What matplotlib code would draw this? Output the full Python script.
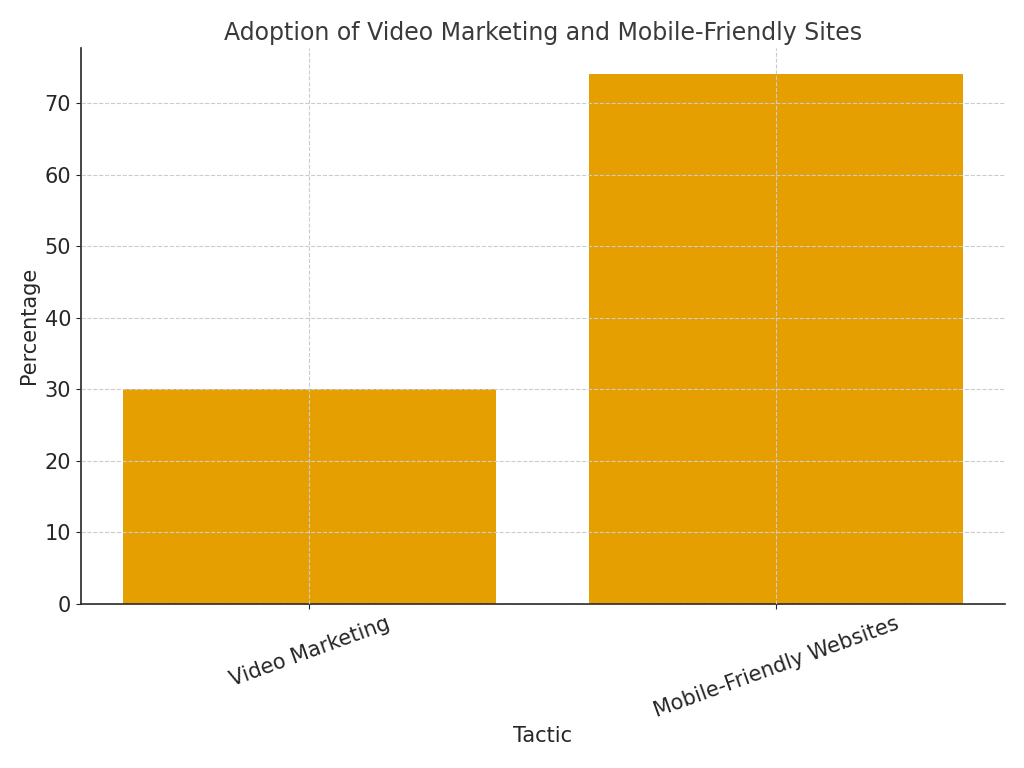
import matplotlib
matplotlib.use("Agg")
import matplotlib.pyplot as plt

tactics = ["Video Marketing", "Mobile-Friendly Websites"]
percentages = [30, 74]

fig, ax = plt.subplots(figsize=(10.24, 7.68), dpi=100)
fig.subplots_adjust(left=0.079, right=0.981, top=0.9375, bottom=0.214)

ax.bar(tactics, percentages, color="#E69F00", width=0.8)

ax.set_title("Adoption of Video Marketing and Mobile-Friendly Sites", fontsize=17, color="#3a3a3a")
ax.set_xlabel("Tactic", fontsize=15, color="#262626")
ax.set_ylabel("Percentage", fontsize=15, color="#262626")
ax.tick_params(axis="both", labelsize=15, colors="#262626")
plt.setp(ax.get_xticklabels(), rotation=20)

ax.grid(True, linestyle="--", color="#cccccc", linewidth=0.8)
ax.set_axisbelow(False)
for side in ["top", "right"]:
    ax.spines[side].set_visible(False)
for side in ["left", "bottom"]:
    ax.spines[side].set_linewidth(1.2)
    ax.spines[side].set_color("#262626")

plt.savefig("out.png")
